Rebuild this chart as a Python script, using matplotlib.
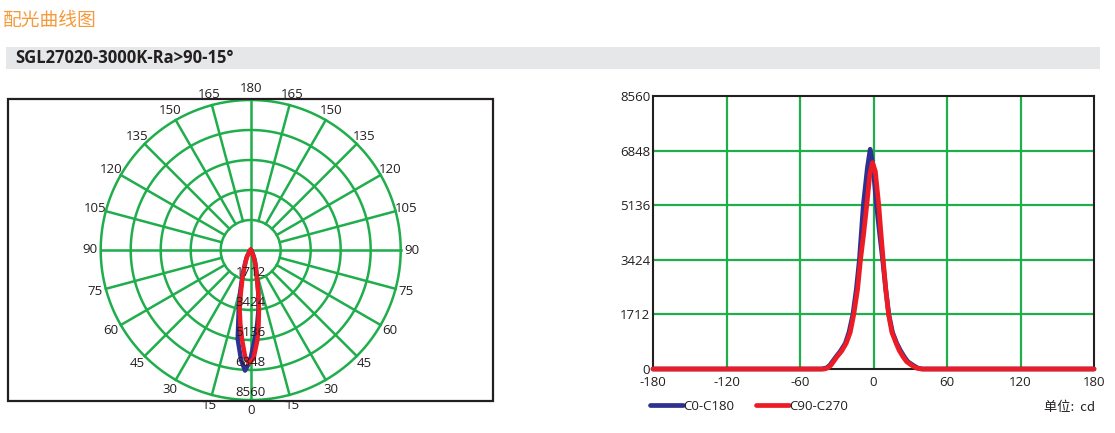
import numpy as np
import matplotlib
matplotlib.use("Agg")
import matplotlib.pyplot as plt
from matplotlib.patches import Rectangle
from matplotlib.lines import Line2D

plt.rcParams['font.family'] = ['Open Sans', 'Noto Sans CJK SC', 'DejaVu Sans']

# ---------------- data ----------------
title_text = "配光曲线图"
subtitle_text = "SGL27020-3000K-Ra>90-15°"
series_names = ["C0-C180", "C90-C270"]
unit_text = "单位:  cd"

angles_c0 = [-180, -42, -38, -35.5, -30.5, -27, -23, -20, -16.8, -14, -11.5, -8.3,
             -5, -2.7, -0.5, 2.5, 5, 7.5, 10, 12.5, 15.5, 19, 22, 25, 28, 32, 36, 40, 180]
values_c0 = [0, 0, 40, 125, 389, 560, 806, 1150, 1712, 2500, 3424, 5136,
             6300, 6890, 6400, 5136, 4250, 3424, 2500, 1712, 1150, 806, 580, 389, 230, 125, 30, 0, 0]

angles_c90 = [-180, -40, -37, -34.6, -29.7, -26, -22.3, -19, -16.1, -13, -10.6, -8,
              -5.5, -3, -0.8, 1.5, 4.3, 6, 7.9, 10, 12.3, 15, 18.5, 21, 24, 27, 30.8, 35, 39, 180]
values_c90 = [0, 0, 40, 125, 389, 560, 806, 1150, 1712, 2500, 3424, 4250,
              5136, 6100, 6470, 6200, 5136, 4300, 3424, 2500, 1712, 1150, 806, 580, 389, 230, 125, 30, 0, 0]

ring_values = [1712, 3424, 5136, 6848, 8560]
y_ticks = [0, 1712, 3424, 5136, 6848, 8560]
x_ticks = [-180, -120, -60, 0, 60, 120, 180]
polar_label_angles = list(range(-165, 181, 15))

# ---------------- style ----------------
GREEN = '#1fae4b'
BLUE = '#2e3192'
RED = '#ed1c24'
TXT = '#231f20'
ORANGE = '#f59a3a'
FS = 9.5

W, H = 1115, 433
fig = plt.figure(figsize=(W / 100, H / 100), dpi=100)


def fx(px):
    return px / W


def fy(py):
    return 1 - py / H


# Title and subtitle bar
fig.text(fx(3), fy(20), title_text, fontsize=13.5, color=ORANGE, va='center', ha='left',
         family=['Noto Sans CJK SC', 'DejaVu Sans'])
fig.patches.append(Rectangle((fx(6), fy(69)), fx(1100) - fx(6), fy(47) - fy(69),
                             transform=fig.transFigure, facecolor='#e6e7e8', edgecolor='none', zorder=0))
fig.text(fx(15), fy(58), subtitle_text, fontsize=12, fontweight='bold', color=TXT,
         va='center', ha='left')

# Box around polar chart
fig.patches.append(Rectangle((fx(8), fy(401)), fx(493) - fx(8), fy(99) - fy(401),
                             transform=fig.transFigure, facecolor='none', edgecolor=TXT,
                             linewidth=1.6, zorder=1))

# ---------------- polar chart ----------------
cx, cy, R = 250.7, 250, 150
axp = fig.add_axes([fx(cx - R), fy(cy + R), fx(2 * R), (2 * R) / H], projection='polar')
axp.set_theta_zero_location('S')
axp.set_theta_direction(1)
axp.set_ylim(0, 8560)
axp.set_axis_off()

theta_full = np.linspace(0, 2 * np.pi, 721)
for rv in ring_values:
    axp.plot(theta_full, np.full_like(theta_full, rv), color=GREEN, lw=1.8, zorder=2, clip_on=False)
for a in range(0, 360, 15):
    t = np.deg2rad(a)
    if a % 90 == 0:
        axp.plot([t, t], [0, 8560], color=GREEN, lw=1.8, zorder=2, clip_on=False)
    else:
        axp.plot([t, t], [1712, 8560], color=GREEN, lw=1.8, zorder=2, clip_on=False)

axp.plot(np.deg2rad(angles_c0), values_c0, color=BLUE, lw=3.2, zorder=4, clip_on=False)
axp.plot(np.deg2rad(angles_c90), values_c90, color=RED, lw=3.2, zorder=5, clip_on=False)

label_r = 161 / R * 8560
for a in polar_label_angles:
    axp.text(np.deg2rad(a), label_r, str(abs(a)), fontsize=FS, color=TXT,
             ha='center', va='center', clip_on=False, zorder=6)
for rv in ring_values:
    axp.text(0, rv - 440, str(rv), fontsize=FS, color=TXT, ha='center', va='center',
             clip_on=False, zorder=6)

# ---------------- cartesian chart ----------------
axc = fig.add_axes([fx(653), fy(369), fx(1094) - fx(653), (369 - 96) / H])
axc.set_xlim(-180, 180)
axc.set_ylim(0, 8560)
axc.set_xticks(x_ticks)
axc.set_yticks(y_ticks)
axc.set_xticklabels([str(v) for v in x_ticks])
axc.set_yticklabels([str(v) for v in y_ticks])
axc.tick_params(length=0, labelsize=FS, colors=TXT)
axc.tick_params(axis='x', pad=5)
axc.tick_params(axis='y', pad=2)
for s in axc.spines.values():
    s.set_color(TXT)
    s.set_linewidth(1.5)
    s.set_zorder(3)
for v in x_ticks[1:-1]:
    axc.axvline(v, color=GREEN, lw=1.6, zorder=1)
for v in y_ticks[1:-1]:
    axc.axhline(v, color=GREEN, lw=1.6, zorder=1)

axc.plot(angles_c0, values_c0, color=BLUE, lw=3.4, zorder=4, clip_on=False, solid_capstyle='round')
axc.plot(angles_c90, values_c90, color=RED, lw=3.4, zorder=5, clip_on=False, solid_capstyle='round')

handles = [Line2D([], [], color=BLUE, lw=3.4, solid_capstyle='round'),
           Line2D([], [], color=RED, lw=3.4, solid_capstyle='round')]
fig.legend(handles, series_names, loc='center left', bbox_to_anchor=(fx(650), fy(406)),
           ncol=2, frameon=False, fontsize=FS, borderpad=0, borderaxespad=0,
           handlelength=2.5, handletextpad=0.0, columnspacing=1.7, labelcolor=TXT)

fig.text(fx(1095), fy(408), unit_text, fontsize=FS, color=TXT, ha='right', va='center',
         family=['Noto Sans CJK SC', 'DejaVu Sans'])

fig.savefig('out.png', dpi=100)
